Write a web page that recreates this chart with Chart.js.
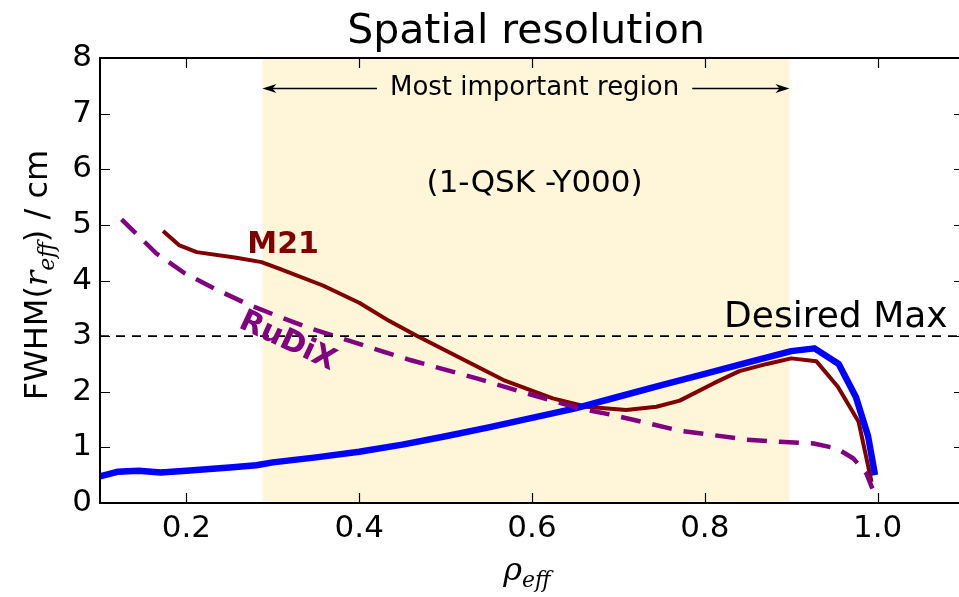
<!DOCTYPE html>
<html>
<head>
<meta charset="utf-8">
<script src="https://cdn.jsdelivr.net/npm/chart.js@4/dist/chart.umd.min.js"></script>
<style>
  html, body { margin: 0; padding: 0; background: #fff; overflow: hidden; }
  #wrap { width: 970px; height: 597px; }
</style>
</head>
<body>
<div id="wrap"><canvas id="fwhmChart" width="970" height="597"></canvas></div>
<script>
// Data
const blueRho  = [0.1, 0.12, 0.145, 0.17, 0.2, 0.25, 0.281, 0.3, 0.35, 0.4, 0.45, 0.5, 0.55, 0.6, 0.65, 0.7, 0.75, 0.8, 0.85, 0.9, 0.927, 0.955, 0.975, 0.989, 0.997];
const blueFwhm = [0.48, 0.56, 0.58, 0.55, 0.58, 0.64, 0.68, 0.73, 0.82, 0.92, 1.05, 1.2, 1.36, 1.53, 1.7, 1.91, 2.12, 2.32, 2.53, 2.73, 2.78, 2.5, 1.9, 1.2, 0.5];

const m21Rho  = [0.173, 0.192, 0.212, 0.258, 0.287, 0.308, 0.358, 0.4, 0.435, 0.466, 0.5, 0.567, 0.624, 0.663, 0.709, 0.744, 0.771, 0.81, 0.84, 0.872, 0.9, 0.929, 0.954, 0.978, 0.993];
const m21Fwhm = [4.89, 4.63, 4.51, 4.41, 4.33, 4.21, 3.91, 3.6, 3.27, 3.01, 2.74, 2.21, 1.88, 1.73, 1.67, 1.73, 1.84, 2.15, 2.37, 2.5, 2.6, 2.55, 2.09, 1.46, 0.38];

const rudixRho  = [0.125, 0.165, 0.198, 0.233, 0.27, 0.304, 0.345, 0.38, 0.424, 0.459, 0.536, 0.594, 0.655, 0.694, 0.771, 0.81, 0.848, 0.887, 0.926, 0.953, 0.972, 0.987, 0.994];
const rudixFwhm = [5.1, 4.49, 4.13, 3.85, 3.58, 3.37, 3.13, 2.96, 2.74, 2.57, 2.24, 1.97, 1.7, 1.58, 1.3, 1.22, 1.14, 1.1, 1.07, 0.98, 0.8, 0.53, 0.26];

const desiredRho  = [0.1, 1.1];
const desiredFwhm = [3, 3];

const importantRegion = [0.288, 0.898];

const xTicks = [0.2, 0.4, 0.6, 0.8, 1.0];
const yTicks = [0, 1, 2, 3, 4, 5, 6, 7, 8];

const SANS = '"DejaVu Sans", sans-serif';
const SERIF = '"DejaVu Serif", serif';

function toPoints(xs, ys) {
    return xs.map((x, i) => ({ x: x, y: ys[i] }));
}

// Shading, annotations, frame and inward ticks
const decorPlugin = {
    id: 'decor',
    beforeDatasetsDraw(chart) {
        const { ctx, chartArea: a, scales: { x } } = chart;
        const x0 = x.getPixelForValue(importantRegion[0]);
        const x1 = x.getPixelForValue(importantRegion[1]);
        ctx.save();
        ctx.fillStyle = '#fff5d8';
        ctx.fillRect(x0, a.top, x1 - x0, a.bottom - a.top);
        ctx.restore();
    },
    afterDatasetsDraw(chart) {
        const { ctx, scales: { x, y } } = chart;
        const x0 = x.getPixelForValue(importantRegion[0]);
        const x1 = x.getPixelForValue(importantRegion[1]);
        const mid = x.getPixelForValue(0.603);
        ctx.save();
        ctx.fillStyle = '#000';
        ctx.strokeStyle = '#000';

        // "Most important region" with arrows
        const ay = y.getPixelForValue(7.45);
        ctx.font = '26px ' + SANS;
        ctx.textAlign = 'center';
        ctx.textBaseline = 'middle';
        ctx.fillText('Most important region', mid, ay);
        const tw = ctx.measureText('Most important region').width;
        ctx.lineWidth = 1.5;
        ctx.beginPath();
        ctx.moveTo(mid - tw / 2 - 13, ay); ctx.lineTo(x0 + 4, ay);
        ctx.moveTo(mid + tw / 2 + 13, ay); ctx.lineTo(x1 - 4, ay);
        ctx.stroke();
        [[x0, 1], [x1, -1]].forEach(([tip, d]) => {
            ctx.beginPath();
            ctx.moveTo(tip, ay);
            ctx.lineTo(tip + d * 14, ay - 4.5);
            ctx.lineTo(tip + d * 10, ay);
            ctx.lineTo(tip + d * 14, ay + 4.5);
            ctx.closePath();
            ctx.fill();
        });

        // shot label
        ctx.font = '31px ' + SANS;
        ctx.fillText('(1-QSK -Y000)', mid, y.getPixelForValue(5.74));

        // series labels
        ctx.font = 'bold 30px ' + SANS;
        ctx.fillStyle = '#800000';
        ctx.fillText('M21', x.getPixelForValue(0.312), y.getPixelForValue(4.64));

        ctx.save();
        ctx.translate(x.getPixelForValue(0.317), y.getPixelForValue(2.9));
        ctx.rotate(25 * Math.PI / 180);
        ctx.fillStyle = '#800080';
        ctx.fillText('RuDiX', 0, 0);
        ctx.restore();

        // desired max label
        ctx.fillStyle = '#000';
        ctx.font = '36px ' + SANS;
        ctx.textAlign = 'right';
        ctx.textBaseline = 'alphabetic';
        ctx.fillText('Desired Max', x.getPixelForValue(1.081), y.getPixelForValue(3.16));
        ctx.restore();
    },
    afterDraw(chart) {
        const { ctx, chartArea: a, scales: { x, y } } = chart;
        ctx.save();
        ctx.strokeStyle = '#000';

        // inward ticks on all four sides
        ctx.lineWidth = 1.2;
        ctx.beginPath();
        xTicks.forEach(v => {
            const px = Math.round(x.getPixelForValue(v)) + 0.5;
            ctx.moveTo(px, a.bottom); ctx.lineTo(px, a.bottom - 10);
            ctx.moveTo(px, a.top); ctx.lineTo(px, a.top + 10);
        });
        yTicks.forEach(v => {
            const py = Math.round(y.getPixelForValue(v)) + 0.5;
            ctx.moveTo(a.left, py); ctx.lineTo(a.left + 10, py);
            ctx.moveTo(a.right, py); ctx.lineTo(a.right - 10, py);
        });
        ctx.stroke();

        // frame
        ctx.lineWidth = 2;
        ctx.strokeRect(a.left, a.top, a.right - a.left, a.bottom - a.top);

        // title
        ctx.fillStyle = '#000';
        ctx.font = '41px ' + SANS;
        ctx.textAlign = 'center';
        ctx.textBaseline = 'alphabetic';
        ctx.fillText('Spatial resolution', 526, 43);

        // x axis label: rho_eff
        ctx.textAlign = 'left';
        ctx.font = 'italic 32px ' + SERIF;
        const rhoW = ctx.measureText('\u03c1').width;
        ctx.font = 'italic 22px ' + SERIF;
        const effW = ctx.measureText('eff').width;
        const sx = 527 - (rhoW + effW) / 2;
        ctx.font = 'italic 32px ' + SERIF;
        ctx.fillText('\u03c1', sx, 580);
        ctx.font = 'italic 22px ' + SERIF;
        ctx.fillText('eff', sx + rhoW, 587);

        // y axis label: FWHM(r_eff) / cm
        const parts = [
            { t: 'FWHM(', f: '32px ' + SANS, dy: 0 },
            { t: 'r', f: 'italic 32px ' + SERIF, dy: 0 },
            { t: 'eff', f: 'italic 22px ' + SERIF, dy: 7 },
            { t: ') / cm', f: '32px ' + SANS, dy: 0 }
        ];
        let total = 0;
        parts.forEach(p => { ctx.font = p.f; p.w = ctx.measureText(p.t).width; total += p.w; });
        ctx.translate(47, 275);
        ctx.rotate(-Math.PI / 2);
        let cx = -total / 2;
        parts.forEach(p => { ctx.font = p.f; ctx.fillText(p.t, cx, p.dy); cx += p.w; });
        ctx.restore();
    }
};

const ctx = document.getElementById('fwhmChart');
new Chart(ctx, {
    type: 'line',
    data: {
        datasets: [{
            label: 'Desired Max',
            data: toPoints(desiredRho, desiredFwhm),
            borderColor: '#000',
            borderWidth: 1.8,
            borderDash: [9, 7]
        }, {
            label: 'RuDiX',
            data: toPoints(rudixRho, rudixFwhm),
            borderColor: '#800080',
            borderWidth: 4.5,
            borderDash: [20, 12]
        }, {
            label: 'Blue',
            data: toPoints(blueRho, blueFwhm),
            borderColor: '#0000ff',
            borderWidth: 6.5
        }, {
            label: 'M21',
            data: toPoints(m21Rho, m21Fwhm),
            borderColor: '#800000',
            borderWidth: 4
        }]
    },
    options: {
        responsive: false,
        animation: false,
        devicePixelRatio: 1,
        layout: { padding: { top: 58, right: 6, left: 0, bottom: 0 } },
        plugins: {
            legend: { display: false },
            title: { display: false },
            tooltip: { enabled: false }
        },
        elements: {
            point: { radius: 0 },
            line: { tension: 0, fill: false, borderJoinStyle: 'round' }
        },
        scales: {
            x: {
                type: 'linear',
                min: 0.1,
                max: 1.1,
                grid: { display: false, drawTicks: false },
                border: { display: false },
                afterBuildTicks: s => { s.ticks = xTicks.map(v => ({ value: v })); },
                afterFit: s => { s.height = 94; },
                ticks: {
                    padding: 7,
                    color: '#000',
                    font: { family: SANS, size: 31 },
                    maxRotation: 0,
                    autoSkip: false,
                    callback: v => v.toFixed(1)
                }
            },
            y: {
                type: 'linear',
                min: 0,
                max: 8,
                grid: { display: false, drawTicks: false },
                border: { display: false },
                afterBuildTicks: s => { s.ticks = yTicks.map(v => ({ value: v })); },
                afterFit: s => { s.width = 100; },
                ticks: {
                    padding: 8,
                    color: '#000',
                    font: { family: SANS, size: 31 },
                    autoSkip: false,
                    callback: v => String(v)
                }
            }
        }
    },
    plugins: [decorPlugin]
});
</script>
</body>
</html>
